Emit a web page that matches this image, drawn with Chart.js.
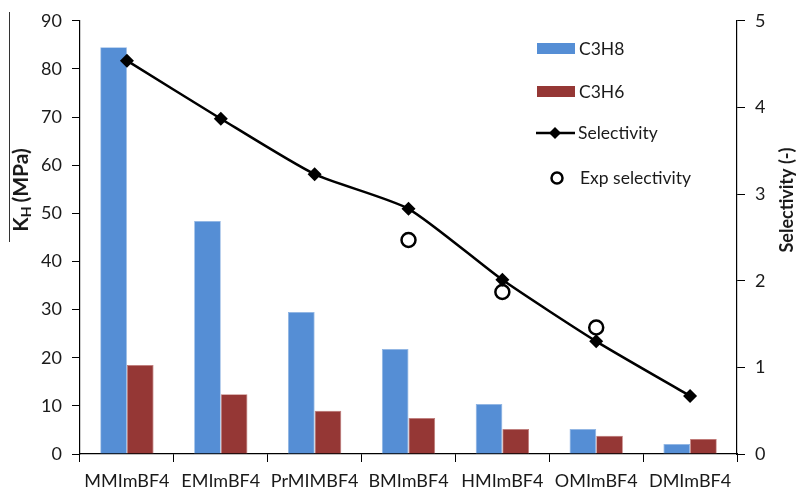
<!DOCTYPE html>
<html>
<head>
<meta charset="utf-8">
<script src="https://cdn.jsdelivr.net/npm/chart.js@4/dist/chart.umd.min.js"></script>
<style>
  html, body { margin: 0; padding: 0; background: #fff; }
  #wrap { width: 803px; height: 489px; position: relative; }
</style>
</head>
<body>
<div id="wrap"><canvas id="c" width="803" height="489"></canvas></div>
<script>
const categories = ['MMImBF4', 'EMImBF4', 'PrMIMBF4', 'BMImBF4', 'HMImBF4', 'OMImBF4', 'DMImBF4'];
const c3h8 = [84.5, 48.4, 29.5, 21.8, 10.4, 5.2, 2.1];
const c3h6 = [18.5, 12.4, 9.0, 7.5, 5.2, 3.8, 3.1];
const selectivity = [4.54, 3.87, 3.23, 2.83, 2.01, 1.30, 0.67];
const expSelectivity = [null, null, null, 2.47, 1.87, 1.46, null];
const leftTicks = [0, 10, 20, 30, 40, 50, 60, 70, 80, 90];
const rightTicks = [0, 1, 2, 3, 4, 5];

const FONT = 'Lato';
const TXT = '#1a1a1a';

const overlay = {
  id: 'overlay',
  afterDraw(chart) {
    const ctx = chart.ctx;
    ctx.save();
    // left title K_H (MPa)
    ctx.save();
    ctx.translate(21, 190);
    ctx.rotate(-Math.PI / 2);
    ctx.fillStyle = TXT;
    ctx.textBaseline = 'middle';
    ctx.font = 'bold 21px ' + FONT;
    const wK = ctx.measureText('K').width;
    ctx.font = 'bold 14px ' + FONT;
    const wH = ctx.measureText('H').width;
    ctx.font = 'bold 21px ' + FONT;
    const wRest = ctx.measureText('(MPa)').width;
    const gap = 4;
    const total = wK + wH + gap + wRest;
    let x = -total / 2;
    ctx.textAlign = 'left';
    ctx.fillText('K', x, 0); x += wK;
    ctx.font = 'bold 14px ' + FONT;
    ctx.fillText('H', x, 5); x += wH + gap;
    ctx.font = 'bold 21px ' + FONT;
    ctx.fillText('(MPa)', x, 0);
    ctx.restore();
    // overline artifact
    ctx.strokeStyle = '#333';
    ctx.lineWidth = 1;
    ctx.beginPath();
    ctx.moveTo(9.5, 12);
    ctx.lineTo(9.5, 242);
    ctx.stroke();
    // right title
    ctx.save();
    ctx.translate(787, 200);
    ctx.rotate(-Math.PI / 2);
    ctx.fillStyle = TXT;
    ctx.font = 'bold 18px ' + FONT;
    ctx.textAlign = 'center';
    ctx.textBaseline = 'middle';
    ctx.fillText('Selectivity (-)', 0, 0);
    ctx.restore();
    // legend
    const ds = chart.data.datasets;
    ctx.font = '17.5px ' + FONT;
    ctx.textAlign = 'left';
    ctx.textBaseline = 'middle';
    ctx.fillStyle = ds[0].backgroundColor;
    ctx.fillRect(537, 43, 38, 11);
    ctx.fillStyle = TXT;
    ctx.fillText(ds[0].label, 579, 49);
    ctx.fillStyle = ds[1].backgroundColor;
    ctx.fillRect(537, 86, 38, 11);
    ctx.fillStyle = TXT;
    ctx.fillText(ds[1].label, 579, 92);
    ctx.strokeStyle = '#000';
    ctx.lineWidth = 2.5;
    ctx.beginPath();
    ctx.moveTo(536, 133); ctx.lineTo(575, 133);
    ctx.stroke();
    ctx.fillStyle = '#000';
    ctx.beginPath();
    ctx.moveTo(555, 127); ctx.lineTo(561, 133); ctx.lineTo(555, 139); ctx.lineTo(549, 133); ctx.closePath();
    ctx.fill();
    ctx.fillStyle = TXT;
    ctx.fillText(ds[2].label, 578, 133);
    ctx.strokeStyle = '#000';
    ctx.lineWidth = 2.5;
    ctx.beginPath();
    ctx.arc(557, 178, 5.5, 0, Math.PI * 2);
    ctx.stroke();
    ctx.fillStyle = TXT;
    ctx.fillText(ds[3].label, 580, 178);
    ctx.restore();
  }
};

new Chart(document.getElementById('c'), {
  type: 'bar',
  data: {
    labels: categories,
    datasets: [
      { label: 'C3H8', data: c3h8, backgroundColor: '#558ed5', borderColor: '#8db3e2', borderWidth: 0.8,
        yAxisID: 'y', order: 2, barPercentage: 1, categoryPercentage: 0.568 },
      { label: 'C3H6', data: c3h6, backgroundColor: '#953735', borderColor: '#c07a78', borderWidth: 0.8,
        yAxisID: 'y', order: 3, barPercentage: 1, categoryPercentage: 0.568 },
      { type: 'line', label: 'Selectivity', data: selectivity, yAxisID: 'y1', order: 1,
        borderColor: '#000', borderWidth: 2.5, tension: 0.2,
        pointStyle: 'rectRot', pointRadius: 7, pointBackgroundColor: '#000', pointBorderColor: '#000', pointBorderWidth: 0 },
      { type: 'line', label: 'Exp selectivity', data: expSelectivity, yAxisID: 'y1', order: 0,
        showLine: false, pointStyle: 'circle', pointRadius: 7, pointBorderWidth: 2.5,
        pointBorderColor: '#000', pointBackgroundColor: 'rgba(255,255,255,0)' }
    ]
  },
  options: {
    responsive: false,
    animation: false,
    layout: { padding: { top: 20, left: 0, right: 0, bottom: 0 } },
    plugins: { legend: { display: false }, tooltip: { enabled: false } },
    scales: {
      x: {
        offset: true,
        grid: { display: true, drawOnChartArea: false, drawTicks: true, tickLength: 8, color: '#000', offset: true },
        border: { display: true, color: '#000', width: 1.2 },
        ticks: { color: TXT, font: { family: FONT, size: 18 }, padding: 8, maxRotation: 0, autoSkip: false },
        afterFit(s) { s.height = 35; }
      },
      y: {
        position: 'left', min: 0, max: 90,
        afterBuildTicks(s) { s.ticks = leftTicks.map(v => ({ value: v })); },
        grid: { display: true, drawOnChartArea: false, drawTicks: true, tickLength: 8, color: '#000' },
        border: { display: true, color: '#000', width: 1.2 },
        ticks: { color: TXT, font: { family: FONT, size: 18 }, padding: 10 },
        afterFit(s) { s.width = 80; }
      },
      y1: {
        position: 'right', min: 0, max: 5,
        afterBuildTicks(s) { s.ticks = rightTicks.map(v => ({ value: v })); },
        grid: { display: true, drawOnChartArea: false, drawTicks: true, tickLength: 8, color: '#000' },
        border: { display: true, color: '#000', width: 1.2 },
        ticks: { color: TXT, font: { family: FONT, size: 18 }, padding: 10 },
        afterFit(s) { s.width = 66; }
      }
    }
  },
  plugins: [overlay]
});
</script>
</body>
</html>
